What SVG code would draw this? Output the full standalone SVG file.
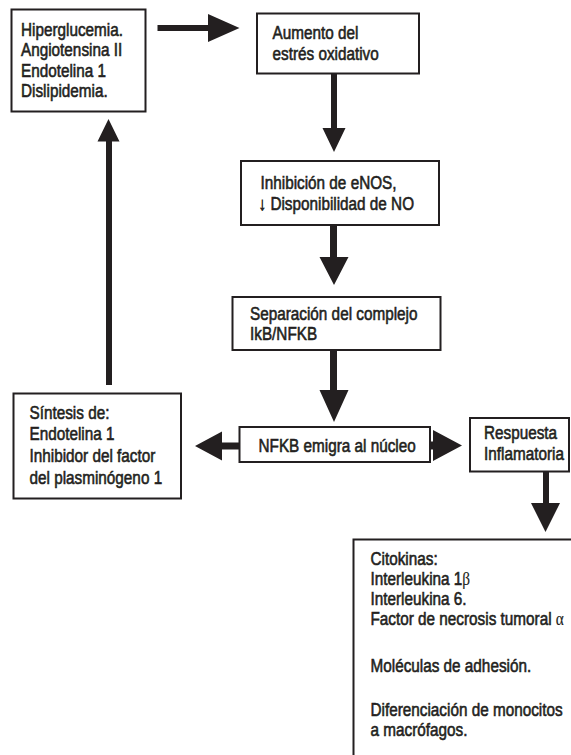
<svg xmlns="http://www.w3.org/2000/svg" width="571" height="755" viewBox="0 0 571 755">
<style>
.box{fill:#fff;stroke:#231f20;stroke-width:2}
.t{font-family:"Liberation Sans",Arial,sans-serif;font-size:18.5px;fill:#231f20;stroke:#231f20;stroke-width:0.6}
.g{font-family:"Liberation Serif","Times New Roman",serif;stroke-width:0.15}
.arr{fill:#231f20;stroke:none}
</style>
<rect width="571" height="755" fill="#fff"/>
<g id="connectors">
<path class="arr" d="M157.5,25 H208 V14 L239.5,28 L208,42 V31 H157.5 Z"/>
<path class="arr" d="M331,73 V128 H322.5 L334,152 L345.5,128 H337 V73 Z"/>
<path class="arr" d="M330,225 V257 H319.5 L334,285 L348.5,257 H337 V225 Z"/>
<path class="arr" d="M330,350 V390 H319.5 L334,422 L348.5,390 H337 V350 Z"/>
<path class="arr" d="M239,442.5 H222 V431.5 L195,446 L222,460.5 V449.5 H239 Z"/>
<path class="arr" d="M430,441.5 H433 V430 L462,445.5 L433,461 V449.5 H430 Z"/>
<path class="arr" d="M543,471.5 V503 H531 L545.5,532 L560,503 H549 V471.5 Z"/>
<path class="arr" d="M106,385 V141.5 H97.5 L108.5,119 L119.5,141.5 H112 V385 Z"/>
</g>
<g id="n1">
<rect class="box" x="11.5" y="9.5" width="134" height="102"/>
<text class="t" transform="matrix(0.827 0 0 1 21 36)">Hiperglucemia.</text>
<text class="t" transform="matrix(0.827 0 0 1 21 56)">Angiotensina II</text>
<text class="t" transform="matrix(0.827 0 0 1 21 76.5)">Endotelina 1</text>
<text class="t" transform="matrix(0.827 0 0 1 21 97)">Dislipidemia.</text>
</g>
<g id="n2">
<rect class="box" x="257" y="13.5" width="162" height="60"/>
<text class="t" transform="matrix(0.827 0 0 1 272.5 38.5)">Aumento del</text>
<text class="t" transform="matrix(0.827 0 0 1 272.5 60)">estrés oxidativo</text>
</g>
<g id="n3">
<rect class="box" x="241" y="161" width="198" height="64"/>
<text class="t" transform="matrix(0.827 0 0 1 260.5 188.5)">Inhibición de eNOS,</text>
<text class="t" transform="matrix(0.827 0 0 1 258.5 210)">↓ Disponibilidad de NO</text>
</g>
<g id="n4">
<rect class="box" x="232.5" y="297" width="208" height="53"/>
<text class="t" transform="matrix(0.827 0 0 1 250 319.5)">Separación del complejo</text>
<text class="t" transform="matrix(0.827 0 0 1 250 339.5)">IkB/NFKB</text>
</g>
<g id="n5">
<rect class="box" x="239.5" y="427" width="190.5" height="35"/>
<text class="t" transform="matrix(0.827 0 0 1 258.5 451.5)">NFKB emigra al núcleo</text>
</g>
<g id="n6">
<rect class="box" x="470" y="418" width="99" height="53.5"/>
<text class="t" transform="matrix(0.827 0 0 1 484 438.5)">Respuesta</text>
<text class="t" transform="matrix(0.827 0 0 1 484 460)">Inflamatoria</text>
</g>
<g id="n7">
<rect class="box" x="353.5" y="539.5" width="240" height="240"/>
<text class="t" transform="matrix(0.827 0 0 1 370.5 564.5)">Citokinas:</text>
<text class="t" transform="matrix(0.827 0 0 1 370.5 584.5)">Interleukina 1<tspan class="g">β</tspan></text>
<text class="t" transform="matrix(0.827 0 0 1 370.5 604.5)">Interleukina 6.</text>
<text class="t" transform="matrix(0.827 0 0 1 370.5 625)">Factor de necrosis tumoral <tspan class="g">α</tspan></text>
<text class="t" transform="matrix(0.827 0 0 1 370.5 671.5)">Moléculas de adhesión.</text>
<text class="t" transform="matrix(0.827 0 0 1 370.5 715.5)">Diferenciación de monocitos</text>
<text class="t" transform="matrix(0.827 0 0 1 370.5 736)">a macrófagos.</text>
</g>
<g id="n8">
<rect class="box" x="13.5" y="393.5" width="167.5" height="105"/>
<text class="t" transform="matrix(0.827 0 0 1 29.5 418.5)">Síntesis de:</text>
<text class="t" transform="matrix(0.827 0 0 1 29.5 440)">Endotelina 1</text>
<text class="t" transform="matrix(0.827 0 0 1 29.5 461.5)">Inhibidor del factor</text>
<text class="t" transform="matrix(0.827 0 0 1 29.5 483.5)">del plasminógeno 1</text>
</g>
</svg>
